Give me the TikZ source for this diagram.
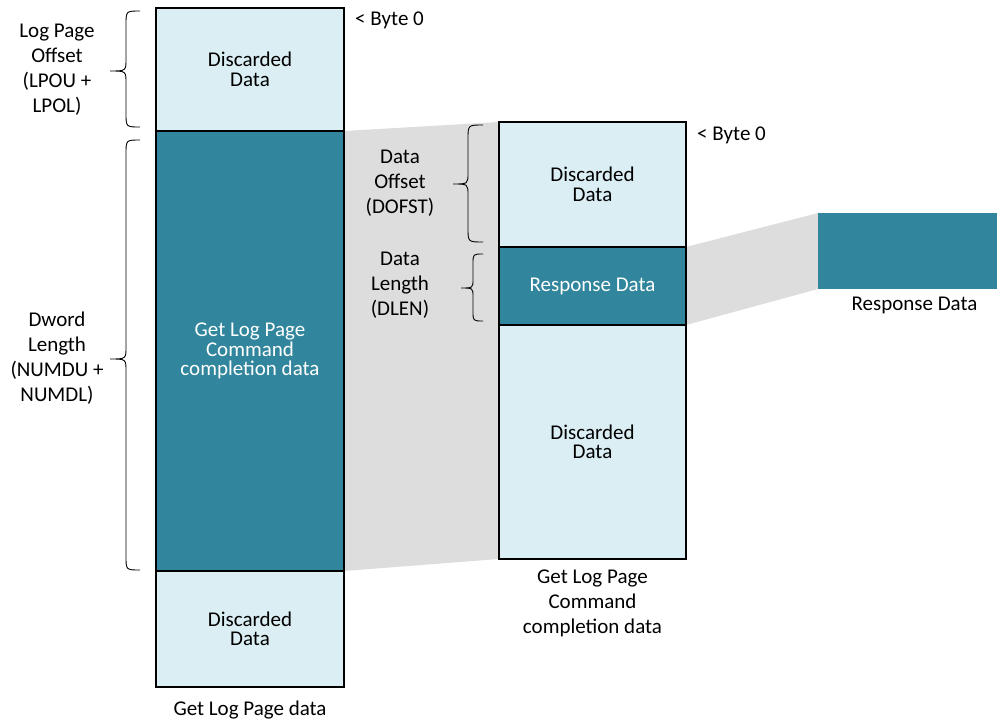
\documentclass[tikz,border=0pt]{standalone}
\usepackage{fontspec}
\setmainfont{Carlito}
\pgfdeclarelayer{background}
\pgfsetlayers{background,main}
\definecolor{lightblk}{HTML}{DAEEF3}
\definecolor{tealblk}{HTML}{31859C}
\definecolor{greyband}{HTML}{DDDDDD}
\tikzset{
  blk/.style={draw=black, line width=1.5pt, inner sep=0pt, outer sep=0pt, align=center,
    font=\fontsize{21}{19.5}\selectfont},
  light/.style={blk, fill=lightblk, text=black},
  dark/.style={blk, fill=tealblk, text=white},
  lbl/.style={align=center, inner sep=0pt, font=\fontsize{21}{25}\selectfont},
  brc/.style={draw=black, line width=0.9pt},
  band/.style={fill=greyband, draw=none}
}
\begin{document}
\begin{tikzpicture}[x=1pt,y=-1pt]
\useasboundingbox (0,0) rectangle (997,723);
% left column
\node[light, minimum width=188pt, minimum height=123pt] (L1) at (250,69.5) {Discarded\\Data};
\node[dark, minimum width=188pt, minimum height=440pt] (L2) at (250,351) {Get Log Page\\Command\\completion data};
\node[light, minimum width=188pt, minimum height=116pt] (L3) at (250,629) {Discarded\\Data};
% middle column
\node[light, minimum width=187pt, minimum height=125pt] (M1) at (592.5,184.5) {Discarded\\Data};
\node[dark, minimum width=187pt, minimum height=78pt] (M2) at (592.5,286) {Response Data};
\node[light, minimum width=187pt, minimum height=234pt] (M3) at (592.5,442) {Discarded\\Data};
% right box
\node[fill=tealblk, draw=none, inner sep=0pt, outer sep=0pt, minimum width=179pt, minimum height=76pt] (R) at (907.5,251) {};
% bands
\begin{pgfonlayer}{background}
\fill[band] (L2.north east) -- (M1.north west) -- (M3.south west) -- (L2.south east) -- cycle;
\fill[band] (M2.north east) -- (R.north west) -- (R.south west) -- (M2.south east) -- cycle;
\end{pgfonlayer}
% labels
\node[lbl] (t1) at (57,69.5) {Log Page\\Offset\\(LPOU +\\LPOL)};
\node[lbl] (t2) at (57,358.5) {Dword\\Length\\(NUMDU +\\NUMDL)};
\node[lbl] (t3) at (400,183) {Data\\Offset\\(DOFST)};
\node[lbl] (t4) at (400,285) {Data\\Length\\(DLEN)};
\node[lbl, anchor=west] (b1) at (355,20) {< Byte 0};
\node[lbl, anchor=west] (b2) at (697,135) {< Byte 0};
\node[lbl] (c1) at (250,710) {Get Log Page data};
\node[lbl] (c2) at (592.5,603) {Get Log Page\\Command\\completion data};
\node[lbl] (c3) at (914.5,305) {Response Data};
% braces
\draw[brc] (140,11) .. controls (126,11) .. (126,25) -- (126,59) .. controls (126,71) .. (110,71) .. controls (126,71) .. (126,83) -- (126,113) .. controls (126,127) .. (140,127);
\draw[brc] (140,140) .. controls (126,140) .. (126,154) -- (126,347) .. controls (126,359) .. (110,359) .. controls (126,359) .. (126,371) -- (126,556) .. controls (126,570) .. (140,570);
\draw[brc] (483,125) .. controls (468,125) .. (468,139) -- (468,173) .. controls (468,184) .. (453,184) .. controls (468,184) .. (468,195) -- (468,228) .. controls (468,242) .. (483,242);
\draw[brc] (483,254) .. controls (473,254) .. (473,264) -- (473,279) .. controls (473,288) .. (461,288) .. controls (473,288) .. (473,297) -- (473,311) .. controls (473,321) .. (483,321);
\end{tikzpicture}
\end{document}
